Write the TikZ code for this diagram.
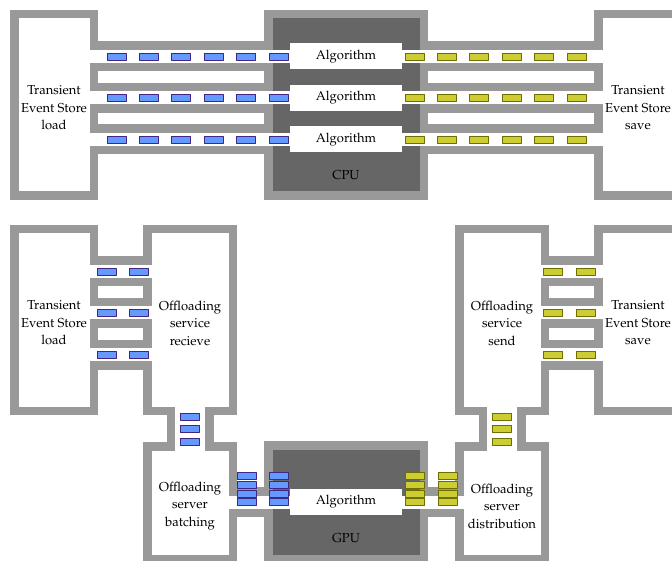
\documentclass[tikz,border=0pt]{standalone}
\usepackage[T1]{fontenc}
\usepackage{mathpazo}
\definecolor{wallgray}{RGB}{153,153,153}
\definecolor{chipgray}{RGB}{102,102,102}
\definecolor{barblue}{RGB}{102,153,255}
\definecolor{bluedge}{RGB}{64,40,130}
\definecolor{baryellow}{RGB}{204,204,51}
\definecolor{yellowedge}{RGB}{110,110,0}
\tikzset{
	wall/.style={fill=wallgray},
	hole/.style={fill=white},
	chip/.style={fill=chipgray},
	inbar/.style={draw=bluedge, fill=barblue, line width=.8pt},
	outbar/.style={draw=yellowedge, fill=baryellow, line width=.8pt},
	lbl/.style={align=center, inner sep=0pt, font=\fontsize{13}{17.5}\selectfont}
}
\begin{document}
\begin{tikzpicture}[x=1pt, y=-1pt, line join=round]
		\def\w{8.5} % do day tuong
		\def\bw{9.5} % nua rong thanh
		\def\bh{3.5} % nua cao thanh
		\clip (0,0) rectangle (672,561);
		\fill[white] (0,0) rectangle (672,561);
		% phong va hanh lang (phan trong)
		\def\spaces{18.5/18.5/89.5/191.5, 602.5/18.5/673.5/191.5,
			89.5/50/290/63, 89.5/91.5/290/104.5, 89.5/133/290/146,
			402/50/602.5/63, 402/91.5/602.5/104.5, 402/133/602.5/146,
			18.5/233.5/89.5/406.5, 151.5/233.5/228.5/406.5,
			463.5/233.5/540.5/406.5, 602.5/233.5/673.5/406.5,
			89.5/265/151.5/278, 89.5/306.5/151.5/319.5, 89.5/348/151.5/361,
			540.5/265/602.5/278, 540.5/306.5/602.5/319.5, 540.5/348/602.5/361,
			175/400/205/455, 487/400/517/455,
			151.5/450.5/228.5/554.5, 463.5/450.5/540.5/554.5,
			228.5/495.5/290/508.5, 402/495.5/463.5/508.5}
		\def\chips{272.5/18.5/419.5/191.5, 272.5/449.5/419.5/554.5}
		\foreach \a/\b/\c/\d in \spaces {\fill[wall] (\a-\w,\b-\w) rectangle (\c+\w,\d+\w);}
		\foreach \a/\b/\c/\d in \chips {\fill[wall] (\a-\w,\b-\w) rectangle (\c+\w,\d+\w);}
		\foreach \a/\b/\c/\d in \chips {\fill[chip] (\a,\b) rectangle (\c,\d);}
		\foreach \a/\b/\c/\d in \spaces {\fill[hole] (\a,\b) rectangle (\c,\d);}
		% Algorithm
		\foreach \y [count=\i] in {56.5,98,139.5,502}{
			\fill[hole] (290,\y-13) rectangle (402,\y+13);
			\node[lbl] (alg\i) at (346,\y) {Algorithm};
		}
		\node[lbl] (cpu) at (346,175) {CPU};
		\node[lbl] (gpu) at (346,538) {GPU};
		% thanh du lieu
		\foreach \y in {56.5,98,139.5}
		\foreach \i in {0,...,5}{
			\draw[inbar] (116.5+32.4*\i-\bw,\y-\bh) rectangle (116.5+32.4*\i+\bw,\y+\bh);
			\draw[outbar] (414.5+32.4*\i-\bw,\y-\bh) rectangle (414.5+32.4*\i+\bw,\y+\bh);
		}
		\foreach \y in {271.5,313,354.5}{
			\foreach \x in {106.5,139} \draw[inbar] (\x-\bw,\y-\bh) rectangle (\x+\bw,\y+\bh);
			\foreach \x in {553,585.5} \draw[outbar] (\x-\bw,\y-\bh) rectangle (\x+\bw,\y+\bh);
		}
		\foreach \y in {416.5,429,441.5}{
			\draw[inbar] (189.5-\bw,\y-\bh) rectangle (189.5+\bw,\y+\bh);
			\draw[outbar] (502-\bw,\y-\bh) rectangle (502+\bw,\y+\bh);
		}
		\foreach \y in {476,484.7,493.4,502.1}{
			\foreach \x in {246.5,278.5} \draw[inbar] (\x-\bw,\y-\bh) rectangle (\x+\bw,\y+\bh);
			\foreach \x in {415,447.5} \draw[outbar] (\x-\bw,\y-\bh) rectangle (\x+\bw,\y+\bh);
		}
		% nhan
		\node[lbl] (loadT) at (54,108) {Transient\\Event Store\\load};
		\node[lbl] (saveT) at (638,108) {Transient\\Event Store\\save};
		\node[lbl] (loadB) at (54,323) {Transient\\Event Store\\load};
		\node[lbl] (saveB) at (638,323) {Transient\\Event Store\\save};
		\node[lbl] (recv) at (190,323) {Offloading\\service\\recieve};
		\node[lbl] (send) at (502,323) {Offloading\\service\\send};
		\node[lbl] (batch) at (190,506) {Offloading\\server\\batching};
		\node[lbl] (distr) at (502,506) {Offloading\\server\\distribution};
		%\draw[red] (0,0) grid[step=50] (672,561);
\end{tikzpicture}
\end{document}
